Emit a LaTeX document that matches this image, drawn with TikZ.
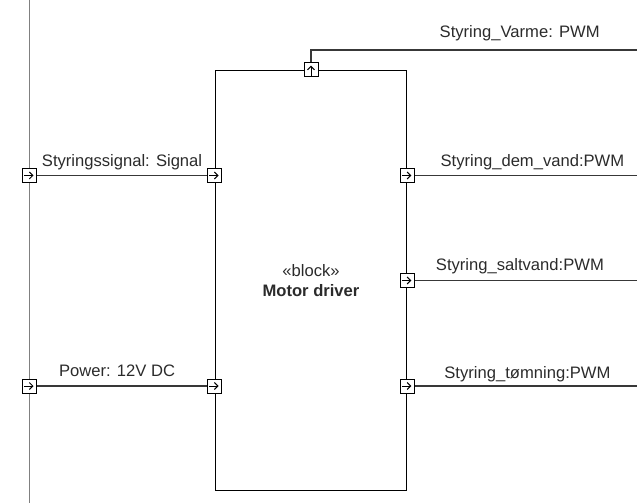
\documentclass[tikz,border=0pt]{standalone}
\usepackage{fontspec}
\setmainfont{Liberation Sans}
\usetikzlibrary{arrows.meta, positioning}
\definecolor{LineGray}{HTML}{383838}
\definecolor{FrameGray}{HTML}{808080}
\definecolor{TextGray}{HTML}{2B2B2B}

\begin{document}
\begin{tikzpicture}[
    x=1bp, y=-1bp,
    every node/.style={font=\fontsize{16.6bp}{20bp}\selectfont, text=TextGray},
    block/.style={rectangle, draw=black, line width=1.8bp, minimum width=191bp, minimum height=420bp, align=center, inner sep=0pt},
    port/.style={rectangle, draw=black, fill=white, line width=0.9bp, minimum size=14bp, inner sep=0pt},
    portright/.style={port, path picture={\draw[-{Straight Barb[length=3.5bp, width=7bp]}, line width=1bp]
        ([xshift=1.5bp]path picture bounding box.west) -- ([xshift=-3bp]path picture bounding box.east);}},
    portup/.style={port, path picture={\draw[-{Straight Barb[length=3.5bp, width=7bp]}, line width=1bp]
        ([yshift=-1.5bp]path picture bounding box.south) -- ([yshift=-3bp]path picture bounding box.north);}},
    signal/.style={draw=LineGray, line width=1.4bp},
    frame/.style={draw=FrameGray, line width=1.8bp},
    lbl/.style={anchor=base, inner sep=0pt}
]
\useasboundingbox (0,0) rectangle (637,503);

% Outer frame edge
\coordinate (frameTop) at (29.5,0);
\coordinate (frameBot) at (29.5,503);
\draw[frame] (frameTop) -- (frameBot);

% Block
\node[block] (driver) at (311,280.5) {«block»\\\textbf{Motor driver}};

% Ports
\node[portright] (pSigIn) at (29.5,175.5) {};
\node[portright] (pPowIn) at (29.5,386) {};
\node[portright] (pSig) at (driver.west |- pSigIn) {};
\node[portright] (pPow) at (driver.west |- pPowIn) {};
\node[portright] (pDem) at (driver.east |- pSigIn) {};
\node[portright] (pSalt) at (driver.east) {};
\node[portright] (pTom) at (driver.east |- pPowIn) {};
\node[portup] (pVarme) at (driver.north) {};

% Free ends
\coordinate (varmeEnd) at (637,50);

% Connectors
\draw[signal] (pSigIn) -- node[lbl, yshift=8.5bp] (lSig) {Styringssignal: Signal} (pSig);
\draw[signal] (pPowIn) -- node[lbl, xshift=-5bp, yshift=9.5bp] (lPow) {Power: 12V DC} (pPow);

\draw[signal] (pVarme.north) |- node[lbl, pos=0.82, yshift=12bp] (lVarme) {Styring\_Varme: PWM} (varmeEnd);
\draw[signal] (pDem) -- node[lbl, xshift=6.5bp, yshift=8.5bp] (lDem) {Styring\_dem\_vand:PWM} (pDem -| varmeEnd);
\draw[signal] (pSalt) -- node[lbl, xshift=-6bp, yshift=10bp] (lSalt) {Styring\_saltvand:PWM} (pSalt -| varmeEnd);
\draw[signal] (pTom) -- node[lbl, xshift=1.5bp, yshift=8bp] (lTom) {Styring\_tømning:PWM} (pTom -| varmeEnd);

\end{tikzpicture}
\end{document}
